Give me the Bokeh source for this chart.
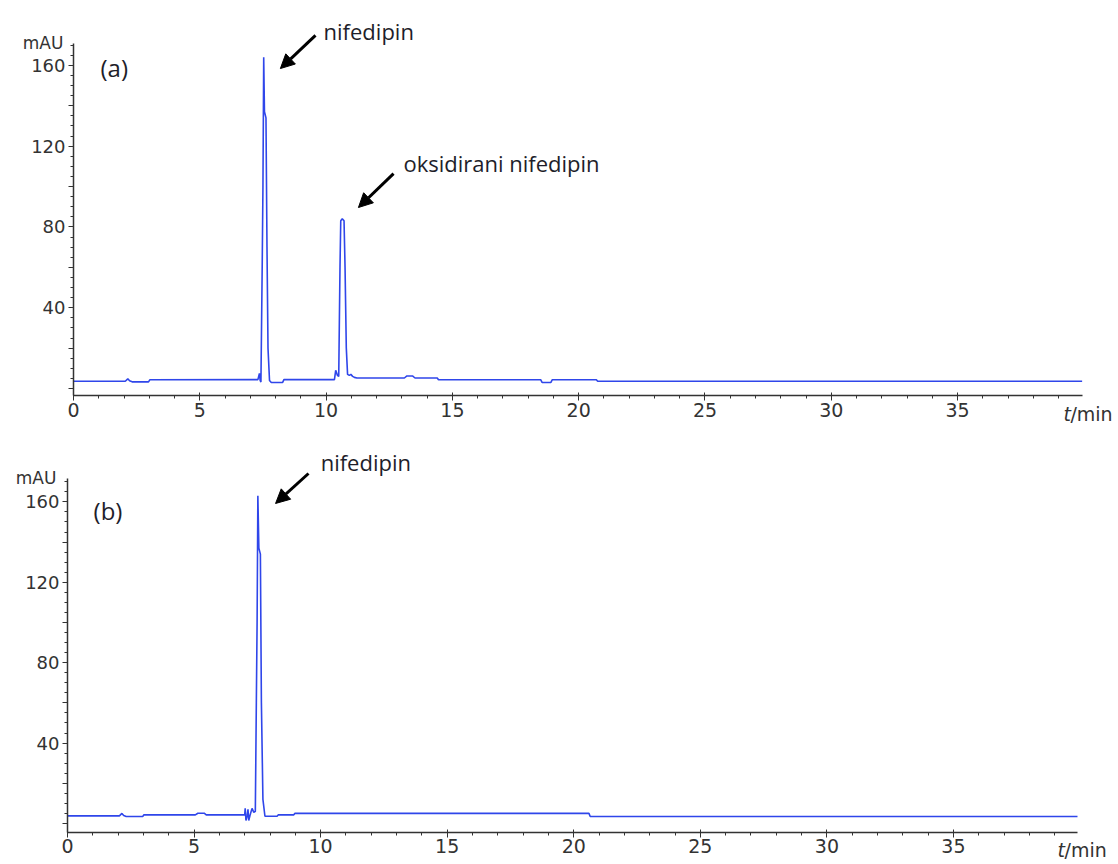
from bokeh.plotting import figure
from bokeh.layouts import column
from bokeh.models import Range1d, FixedTicker, Label, Arrow, NormalHead
from bokeh.embed import file_html
from bokeh.resources import INLINE

# ---------------- data ----------------
# panel (a): time in min, absorbance in mAU
time_a = [0.0, 2.05, 2.15, 2.22, 2.32, 2.97, 3.02, 7.30, 7.36, 7.39, 7.42, 7.47, 7.50,
          7.53, 7.56, 7.62, 7.66, 7.70, 7.76, 7.83, 8.28, 8.33, 10.33, 10.38, 10.45,
          10.50, 10.55, 10.58, 10.64, 10.71, 10.75, 10.80, 10.85, 10.92, 10.98, 11.05,
          11.12, 11.22, 13.10, 13.20, 13.42, 13.52, 14.40, 14.45, 18.50, 18.55, 18.90,
          18.95, 20.70, 20.75, 39.93]
mau_a = [3.6, 3.6, 4.8, 3.8, 3.3, 3.3, 4.3, 4.4, 7.5, 4.0, 3.2, 60.0, 100.0,
         164.0, 137.0, 134.0, 70.0, 20.0, 4.0, 3.0, 3.0, 4.4, 4.4, 9.0, 6.5,
         6.0, 60.0, 83.0, 84.0, 83.0, 60.0, 20.0, 7.0, 6.5, 7.0, 6.0,
         5.5, 5.2, 5.2, 6.2, 6.2, 5.2, 5.2, 4.3, 4.3, 3.0, 3.0,
         4.3, 4.3, 3.6, 3.6]

# panel (b)
time_b = [0.0, 2.05, 2.15, 2.22, 2.32, 2.97, 3.02, 5.05, 5.15, 5.40, 5.48, 7.00, 7.02,
          7.05, 7.10, 7.13, 7.16, 7.22, 7.29, 7.36, 7.42, 7.46, 7.49, 7.52, 7.56, 7.62,
          7.66, 7.72, 7.80, 8.28, 8.33, 8.94, 8.98, 20.60, 20.65, 39.90]
mau_b = [3.8, 3.8, 5.0, 4.0, 3.5, 3.5, 4.3, 4.3, 5.1, 5.1, 4.3, 4.3, 7.5,
         1.5, 4.0, 7.0, 1.5, 4.5, 7.5, 5.5, 6.0, 60.0, 100.0, 163.0, 137.0, 134.0,
         60.0, 12.0, 3.6, 3.6, 4.3, 4.3, 5.0, 5.0, 3.5, 3.5]

x_major_ticks = [0, 5, 10, 15, 20, 25, 30, 35]
x_minor_ticks = list(range(0, 40))
y_major_ticks = [0, 20, 40, 60, 80, 100, 120, 140, 160]
y_labeled_ticks = [40, 80, 120, 160]
y_minor_ticks = list(range(0, 175, 5))

TXT = "#1e1e2a"
AX = "#333333"
LINE = "#2f46ea"


def make_panel(t, v, x_range, y_range, x_axis_at, x_end, y_top, h):
    p = figure(frame_width=1118, frame_height=h, min_border=0,
               x_range=Range1d(*x_range), y_range=Range1d(*y_range),
               output_backend="svg", toolbar_location=None,
               background_fill_color="white", border_fill_color="white")
    p.outline_line_color = None
    p.grid.visible = False
    p.line(t, v, line_color=LINE, line_width=1.6)

    xa = p.xaxis[0]
    xa.fixed_location = x_axis_at
    xa.ticker = FixedTicker(ticks=x_major_ticks, minor_ticks=x_minor_ticks)
    xa.bounds = (0, x_end)
    xa.axis_line_color = AX
    xa.axis_line_width = 1.5
    xa.major_tick_line_color = AX
    xa.minor_tick_line_color = AX
    xa.major_tick_out = 5
    xa.major_tick_in = 3
    xa.minor_tick_out = 3
    xa.minor_tick_in = 0
    xa.major_label_standoff = 2
    xa.major_label_text_font = "DejaVu Sans"
    xa.major_label_text_font_size = "19px"
    xa.major_label_text_color = AX

    ya = p.yaxis[0]
    ya.fixed_location = 0
    ya.ticker = FixedTicker(ticks=y_major_ticks, minor_ticks=y_minor_ticks)
    ya.bounds = (x_axis_at, y_top)
    ya.major_label_overrides = {tk: ("" if tk not in y_labeled_ticks else str(tk))
                                for tk in y_major_ticks}
    ya.axis_line_color = AX
    ya.axis_line_width = 1.5
    ya.major_tick_line_color = AX
    ya.minor_tick_line_color = AX
    ya.major_tick_out = 5
    ya.major_tick_in = 0
    ya.minor_tick_out = 3
    ya.minor_tick_in = 0
    ya.major_label_standoff = 3
    ya.major_label_text_font = "DejaVu Sans"
    ya.major_label_text_font_size = "18px"
    ya.major_label_text_color = AX
    return p


def add_unit_labels(p, mau_x, mau_y, tmin_x, tmin_y):
    p.add_layout(Label(x=mau_x, y=mau_y, text="mAU",
                       text_align="right", text_baseline="middle", text_font="DejaVu Sans",
                       text_font_size="17px", text_color=AX))
    p.add_layout(Label(x=tmin_x, y=tmin_y, text="t",
                       text_align="left", text_baseline="middle", text_font="DejaVu Sans",
                       text_font_style="italic", text_font_size="19px", text_color=AX))
    p.add_layout(Label(x=tmin_x, y=tmin_y, x_offset=7, text="/min",
                       text_align="left", text_baseline="middle", text_font="DejaVu Sans",
                       text_font_size="19px", text_color=AX))


def add_note(p, text, tx, ty, xs, ys, xe, ye):
    p.add_layout(Label(x=tx, y=ty, text=text, text_align="left", text_baseline="middle",
                       text_font="Open Sans", text_font_size="22px", text_color=TXT))
    p.add_layout(Arrow(end=NormalHead(size=14, fill_color="black", line_color="black"),
                       x_start=xs, y_start=ys, x_end=xe, y_end=ye,
                       line_color="black", line_width=3))


# ---------------- panel (a) ----------------
pa = make_panel(time_a, mau_a, (-2.890, 41.37), (-21.78, 192.08), -3.465, 39.93, 170.8, 432)
add_unit_labels(pa, -0.40, 170.8, 39.19, -12.4)
pa.add_layout(Label(x=1.07, y=158.9, text="(a)", text_baseline="middle", text_font="Open Sans",
                    text_font_size="24px", text_color=TXT))
add_note(pa, "nifedipin", 9.90, 177.2, 9.58, 174.8, 8.19, 158.4)
add_note(pa, "oksidirani nifedipin", 13.06, 111.4, 12.67, 106.4, 11.28, 89.6)

# ---------------- panel (b) ----------------
pb = make_panel(time_b, mau_b, (-2.647, 41.52), (-20.41, 194.5), -4.478, 39.90, 171.6, 432)
add_unit_labels(pb, -0.44, 172.1, 39.11, -13.4)
pb.add_layout(Label(x=1.03, y=155.7, text="(b)", text_baseline="middle", text_font="Open Sans",
                    text_font_size="24px", text_color=TXT))
add_note(pb, "nifedipin", 10.0, 179.6, 9.52, 174.1, 8.22, 159.2)

layout = column(pa, pb, spacing=0)
open("out.html", "w").write(file_html(layout, INLINE))
